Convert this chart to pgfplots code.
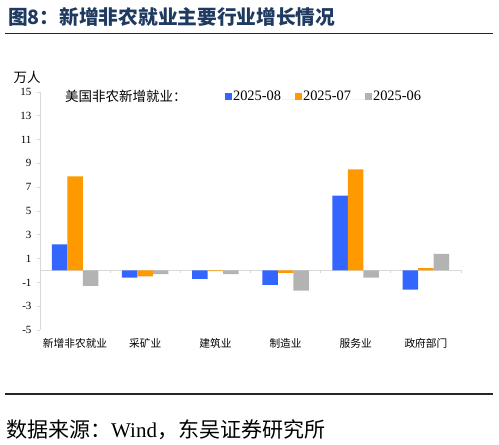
\documentclass[border=0pt]{standalone}
\usepackage{fontspec}
\setmainfont{Liberation Serif}
\newfontfamily\cjk{Noto Sans CJK SC}
\usepackage{pgfplots}
\pgfplotsset{compat=1.18}
\definecolor{cblue}{HTML}{3366FF}
\definecolor{corange}{HTML}{FF9900}
\definecolor{cgray}{HTML}{B3B3B3}
\definecolor{navy}{HTML}{1F3A60}
\definecolor{axgray}{HTML}{D9D9D9}
\begin{document}
\begin{tikzpicture}[x=1pt,y=1pt]
\path[use as bounding box] (0pt,0pt) rectangle (499pt,445pt);
\node[anchor=west, inner sep=0, text=navy, font=\fontsize{19.7}{19.7}\selectfont\cjk\bfseries] at (8pt,428pt) {图8：新增非农就业主要行业增长情况};
\draw[line width=1.5pt, color=black!85] (5pt,411.5pt) -- (493pt,411.5pt);
\draw[line width=1.5pt, color=black!85] (5pt,51pt) -- (493pt,51pt);
\node[anchor=west, inner sep=0, font=\fontsize{21}{21}\selectfont\cjk] at (6pt,15pt) {数据来源：{\rmfamily Wind}，东吴证券研究所};
\node[font=\fontsize{13.5}{13.5}\selectfont\cjk, inner sep=0] at (27pt,368pt) {万人};
\node[anchor=west, font=\fontsize{13.5}{13.5}\selectfont\cjk, inner sep=0] at (65pt,349pt) {美国非农新增就业：};
\begin{axis}[
  at={(40pt,115pt)}, anchor=south west,
  scale only axis, width=421pt, height=238pt,
  xmin=-0.5, xmax=5.5, ymin=-5, ymax=15,
  ybar=0pt, bar width=15.5pt,
  axis y line*=left, axis x line*=bottom,
  x axis line style={draw=none},
  y axis line style={draw=axgray, line width=0.8pt},
  ytick={-5,-3,...,15},
  ytick style={draw=axgray, line width=0.8pt},
  major tick length=3pt, tick align=outside,
  xtick={0,1,2,3,4,5},
  xticklabels={新增非农就业,采矿业,建筑业,制造业,服务业,政府部门},
  xtick style={draw=none},
  xticklabel style={font=\fontsize{10.7}{10.7}\selectfont\cjk, yshift=-2pt},
  yticklabel style={font=\fontsize{11}{11}\selectfont, xshift=-2pt},
  /pgf/number format/assume math mode=true,
  legend columns=3, legend cell align=left,
  legend style={at={(0.432,0.983)}, anchor=west, draw=none, fill=none,
    font=\fontsize{14.4}{14.4}\selectfont, column sep=0pt,
    nodes={inner sep=1pt}},
  clip=false,
]
\draw[axgray, line width=1pt] (axis cs:-0.5,0) -- (axis cs:5.5,0);
\pgfplotsinvokeforeach{-0.5,0.5,1.5,2.5,3.5,4.5,5.5}{\draw[axgray, line width=0.8pt] (axis cs:#1,0) -- ++(0pt,-3pt);}
\addplot[fill=cblue, draw=none, legend image code/.code={\fill[cblue] (0pt,-3.5pt) rectangle (7pt,3.5pt);}] coordinates {(0,2.2) (1,-0.6) (2,-0.7) (3,-1.2) (4,6.3) (5,-1.6)};
\addplot[fill=corange, draw=none, legend image code/.code={\path (-13pt,-3.5pt) -- (0pt,-3.5pt); \fill[corange] (0pt,-3.5pt) rectangle (7pt,3.5pt);}] coordinates {(0,7.9) (1,-0.5) (2,-0.05) (3,-0.2) (4,8.5) (5,0.2)};
\addplot[fill=cgray, draw=none, legend image code/.code={\path (-13pt,-3.5pt) -- (0pt,-3.5pt); \fill[cgray] (0pt,-3.5pt) rectangle (7pt,3.5pt);}] coordinates {(0,-1.3) (1,-0.3) (2,-0.3) (3,-1.7) (4,-0.6) (5,1.4)};
\addlegendentry{2025-08}
\addlegendentry{2025-07}
\addlegendentry{2025-06}
\end{axis}
\end{tikzpicture}
\end{document}
